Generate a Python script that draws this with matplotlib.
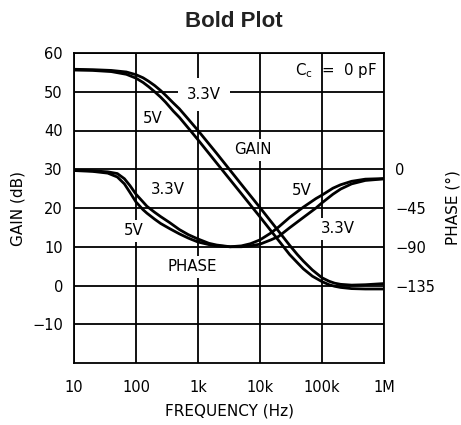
import numpy as np
import matplotlib
matplotlib.use("Agg")
import matplotlib.pyplot as plt

# frequency points (Hz)
freq = [10, 20, 40, 70, 100, 130, 160, 200, 250, 300, 400, 500, 700, 1e3, 2e3,
        5e3, 1e4, 2e4, 3e4, 4e4, 5e4, 7e4, 1e5, 1.3e5, 1.6e5, 2e5, 3e5, 5e5, 1e6]
gain_5v = [55.6, 55.5, 55.2, 54.5, 53.5, 52.4, 51.3, 50.0, 48.6, 47.3, 45.0,
           43.4, 40.6, 37.6, 31.6, 23.7, 17.7, 11.6, 8.0, 5.9, 4.3, 2.4, 1.0,
           0.2, -0.2, -0.5, -0.8, -0.9, -0.9]
gain_33v = [55.8, 55.7, 55.5, 55.1, 54.4, 53.6, 52.7, 51.6, 50.3, 49.1, 47.1,
            45.6, 42.9, 40.0, 34.1, 26.1, 20.1, 14.0, 10.4, 8.0, 6.3, 4.0, 2.0,
            1.1, 0.6, 0.3, 0.1, 0.2, 0.5]

freq_ph = [10, 20, 35, 50, 65, 80, 100, 130, 150, 200, 250, 350, 500, 700,
           1e3, 1.5e3, 2e3, 3.3e3, 5e3, 7e3, 1e4, 1.5e4, 2e4, 3e4, 5e4, 8e4,
           1e5, 1.5e5, 2e5, 3e5, 5e5, 1e6]
phase_5v = [-1.5, -2.5, -4.5, -9, -17, -27, -38, -47, -51, -58, -63, -69, -75,
            -80, -84.5, -87.5, -89, -90, -89, -86.5, -82, -74, -67, -56, -44,
            -34, -30, -22, -18, -14, -11.5, -10.8]
phase_33v = [-1, -1.8, -3, -5, -11, -19, -29, -38, -43, -50, -55, -62, -70,
             -76, -81, -86, -88, -90, -90, -89, -87, -82, -78, -68, -56, -45,
             -39, -29, -23, -17, -13, -11.2]

xticks = [10, 100, 1e3, 1e4, 1e5, 1e6]
xticklabels = ['10', '100', '1k', '10k', '100k', '1M']
yticks = [-10, 0, 10, 20, 30, 40, 50, 60]
ph_ticks = [0, -45, -90, -135]

# annotations: (text, freq, gain)
notes = [('3.3V', 1250, 49.4), ('5V', 188, 43.2), ('GAIN', 7.7e3, 35.0),
         ('3.3V', 328, 24.9), ('5V', 93, 14.1), ('PHASE', 800, 4.8),
         ('5V', 4.75e4, 24.6), ('3.3V', 1.81e5, 14.6)]

plt.rcParams['font.family'] = ['DejaVu Sans']
fig = plt.figure(figsize=(4.61, 4.25), dpi=100)
ax = fig.add_axes([74/461, 1-363/425, 310/461, 310/425])

ax.plot(freq, gain_5v, color='black', lw=2.0, zorder=4)
ax.plot(freq, gain_33v, color='black', lw=2.0, zorder=4)
ax.set_xscale('log')
ax.set_xlim(10, 1e6)
ax.set_ylim(-20, 60)
ax.set_xticks(xticks)
ax.set_xticklabels(xticklabels)
ax.minorticks_off()
ax.set_yticks(yticks)
ax.grid(True, color='black', lw=1.3)
ax.set_axisbelow(True)
ax.tick_params(length=0, labelsize=10.5)
ax.tick_params(axis='x', pad=12)
ax.tick_params(axis='y', pad=8)
for s in ax.spines.values():
    s.set_linewidth(1.3)

ax.set_xlabel('FREQUENCY (Hz)', fontsize=11, va='top')
ax.xaxis.set_label_coords(0.5, -0.132)
ax.set_ylabel('GAIN (dB)', fontsize=11)
ax.yaxis.set_label_coords(-0.158, 0.5)

for i, (txt, fx, gy) in enumerate(notes):
    pad = 0.6 if i == 0 else 0.25
    ax.text(fx, gy, txt, fontsize=10.8, ha='center', va='center', zorder=3,
            bbox=dict(boxstyle='square,pad=%s' % pad, fc='white', ec='none'))
ax.text(1.7e5, 55.6, r'C$_\mathregular{c}$  =  0 pF', fontsize=10.8,
        ha='center', va='center')

ax2 = ax.twinx()
ax2.plot(freq_ph, phase_5v, color='black', lw=2.0)
ax2.plot(freq_ph, phase_33v, color='black', lw=2.0)
ax2.set_ylim(-225, 135)
ax2.set_yticks(ph_ticks)
ax2.tick_params(length=0, labelsize=10.5, pad=8)
for s in ax2.spines.values():
    s.set_visible(False)
ax2.set_ylabel('PHASE (°)', fontsize=11, rotation=90)
ax2.yaxis.set_label_coords(1.197, 0.5)

fig.text(234/461, 1-27/425, 'Bold Plot', fontsize=16, fontweight='bold',
         family='Liberation Sans', ha='center', va='baseline', color='#222222')

fig.savefig('out.png', dpi=100)
